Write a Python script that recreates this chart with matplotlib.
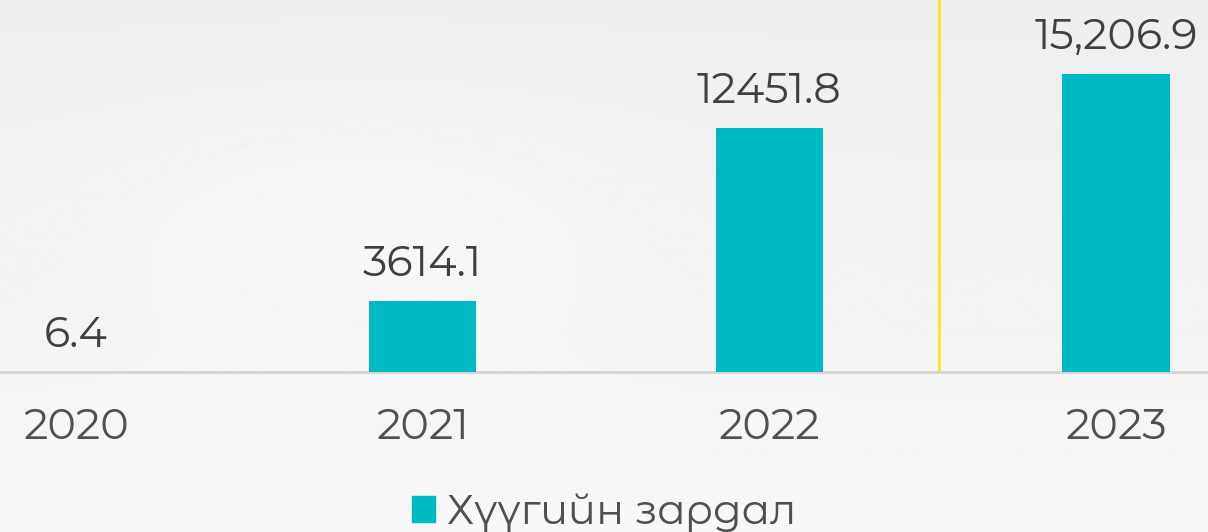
import matplotlib
matplotlib.use("Agg")
import matplotlib.pyplot as plt
from matplotlib.patches import Patch
import numpy as np

years = ["2020", "2021", "2022", "2023"]
values = [6.4, 3614.1, 12451.8, 15206.9]
value_labels = ["6.4", "3614.1", "12451.8", "15,206.9"]
legend_label = "Хүүгийн зардал"

bar_color = "#00BAC2"
plt.rcParams['font.family'] = ['Montserrat Alternates', 'Lato', 'DejaVu Sans']

fig = plt.figure(figsize=(12.08, 5.32), dpi=100)
fig.patch.set_facecolor("#eff2f3")

# subtle background gradient
bg = fig.add_axes([0, 0, 1, 1], zorder=-10)
yy, xx = np.mgrid[0:1:200j, 0:1:400j]
grad = 0.935 + 0.035 * yy + 0.02 * np.exp(-((xx - 0.3) ** 2 + (yy - 0.4) ** 2) / 0.05)
bg.imshow(grad, cmap="gray", vmin=0, vmax=1, aspect="auto", extent=[0, 1, 0, 1])
bg.axis("off")

ax = fig.add_axes([0, 0.3008, 1, 0.6992])
ax.patch.set_alpha(0)
x = np.arange(len(years))
ax.bar(x, values, width=0.31, color=bar_color, zorder=3)
ax.set_xlim(-0.219, 3.265)
ax.set_ylim(0, 18983)

W = "normal"
FS = 31
for xi, v, lab in zip(x, values, value_labels):
    ax.annotate(lab, (xi, v), xytext=(0, 12), textcoords="offset points",
                ha="center", va="bottom", fontsize=FS, color="#404040", fontweight=W)

ax.axvline(2.49, color="#ffe600", lw=1.8, zorder=2, clip_on=False)

for s in ["top", "right", "left"]:
    ax.spines[s].set_visible(False)
ax.spines["bottom"].set_color("#d5d5d5")
ax.spines["bottom"].set_linewidth(2)
ax.set_yticks([])
ax.set_xticks(x)
ax.set_xticklabels(years, fontsize=FS, color="#505050", fontweight=W)
ax.tick_params(axis="x", length=0, pad=25)

fig.legend(handles=[Patch(color=bar_color, label=legend_label)],
           loc="lower center", bbox_to_anchor=(0.5, -0.07), frameon=False,
           prop={"size": 30, "weight": W}, handlelength=0.55, handleheight=0.55, handletextpad=0.3,
           labelcolor="#505050")

fig.savefig("out.png", dpi=100, facecolor=fig.get_facecolor())
